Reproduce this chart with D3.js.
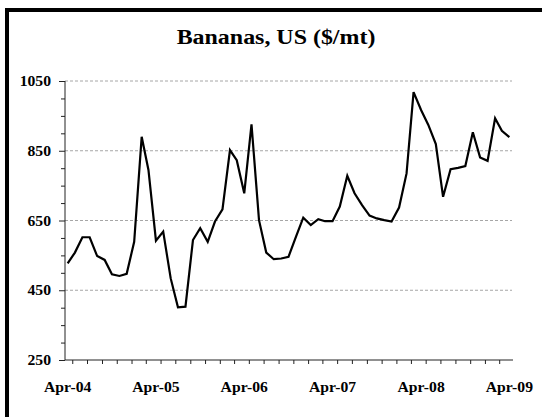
<!DOCTYPE html>
<html>
<head>
<meta charset="utf-8">
<script src="https://cdn.jsdelivr.net/npm/d3@7"></script>
<style>
  body { margin: 0; background: #fff; }
  svg { display: block; }
  text { font-family: "Liberation Serif", "Times New Roman", serif; font-weight: bold; fill: #000; }
</style>
</head>
<body>
<svg id="dessin" width="542" height="417"></svg>
<script>
// monthly prices, Apr-04 .. Apr-09
let prix = [
  527, 558, 602, 602, 548, 537, 496, 491, 497, 589, 890, 795,
  592, 618, 484, 401, 403, 594, 628, 589, 647, 682, 852, 823,
  728, 926, 651, 558, 539, 541, 546, 604, 658, 637, 654, 648,
  648, 690, 778, 728, 694, 664, 656, 651, 647, 687, 785, 1018,
  967, 924, 869, 718, 797, 801, 806, 903, 831, 821, 943, 907,
  889
];
let debut = new Date(2004, 3, 1);
let fin = new Date(2009, 3, 1);
let mois = d3.timeMonth.range(debut, d3.timeMonth.offset(fin, 1)); // one per value
let etiquettesX = ["Apr-04", "Apr-05", "Apr-06", "Apr-07", "Apr-08", "Apr-09"];
let etiquettesY = [250, 450, 650, 850, 1050];
let grille = [450, 650, 850, 1050];
let titre = "Bananas, US ($/mt)";

const svg = d3.select("#dessin");

// frame
svg.append("rect").attr("x", 5).attr("y", 8).attr("width", 4).attr("height", 409).style("fill", "#000");
svg.append("rect").attr("x", 5).attr("y", 8).attr("width", 537).attr("height", 4).style("fill", "#000");

const x = d3.scaleTime().domain([debut, fin]).range([65, 506.7]);
const y = d3.scaleLinear().domain([250, 1050]).range([360, 81]);
// values sit a little after the start of their month
const pos = d => x(d3.timeDay.offset(d, 11));

// title (text in the picture is stretched sideways)
svg.append("g")
    .attr("transform", "translate(276,43.5) scale(1.14,1)")
  .append("text")
    .attr("text-anchor", "middle")
    .style("font-size", "21px")
    .text(titre);

// grid
svg.selectAll(".grille")
    .data(grille)
    .enter()
    .append("line")
    .attr("x1", 65).attr("x2", 512)
    .attr("y1", d => y(d)).attr("y2", d => y(d))
    .style("stroke", "#a6a6a6")
    .style("stroke-width", 1)
    .style("stroke-dasharray", "3,2");

// y axis
const axeY = d3.axisLeft(y)
    .tickValues(d3.range(250, 1051, 50))
    .tickSize(4)
    .tickFormat("");
svg.append("g")
    .attr("transform", "translate(65,0)")
    .call(axeY)
    .call(g => g.select(".domain").attr("d", `M0,${y(1050)}V${y(250)}`))
    .call(g => g.selectAll(".tick line").attr("x2", d => etiquettesY.includes(d) ? -6 : -4))
    .call(g => g.selectAll("path, line").style("stroke", "#222"));

svg.selectAll(".labY")
    .data(etiquettesY)
    .enter()
    .append("g")
    .attr("transform", d => `translate(51,${y(d) + 5}) scale(1.12,1)`)
    .append("text")
    .attr("text-anchor", "end")
    .style("font-size", "14px")
    .text(d => d);

// x axis
const axeX = d3.axisBottom(x)
    .ticks(d3.timeMonth.every(2))
    .tickSize(4)
    .tickFormat("");
svg.append("g")
    .attr("transform", `translate(0,${y(250)})`)
    .call(axeX)
    .call(g => g.select(".domain").attr("d", "M65,0H513"))
    .call(g => g.selectAll(".tick line").attr("y2", d => d.getMonth() == 3 ? 7 : 4))
    .call(g => g.selectAll("path, line").style("stroke", "#222"));

svg.selectAll(".labX")
    .data(etiquettesX)
    .enter()
    .append("g")
    .attr("transform", (d, i) => `translate(${pos(d3.timeYear.offset(debut, i))},392) scale(1.12,1)`)
    .append("text")
    .attr("text-anchor", "middle")
    .style("font-size", "14px")
    .text(d => d);

// price line
const ligne = d3.line()
    .x((d, i) => pos(mois[i]))
    .y(d => y(d));

svg.append("path")
    .datum(prix)
    .attr("d", ligne)
    .style("fill", "none")
    .style("stroke", "#000")
    .style("stroke-width", 2.2)
    .style("stroke-linejoin", "miter");
</script>
</body>
</html>
